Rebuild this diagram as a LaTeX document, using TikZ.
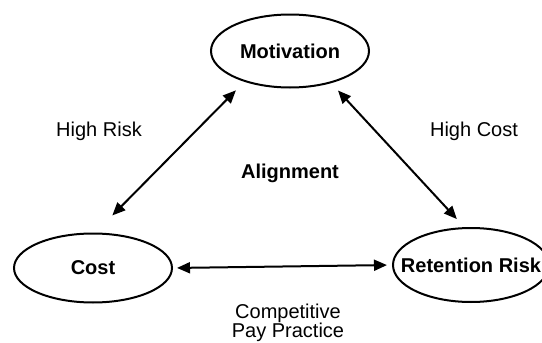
\documentclass[tikz,border=0pt]{standalone}
\usepackage{fontspec}
\setmainfont{Liberation Sans}
\usetikzlibrary{shapes.geometric,arrows.meta}
\begin{document}
\begin{tikzpicture}[x=1pt,y=-1pt,
  oval/.style={draw,line width=2pt,ellipse,inner sep=0pt,minimum width=158pt,minimum height=73pt,font=\fontsize{20}{22}\selectfont\bfseries},
  lbl/.style={font=\fontsize{20}{22}\selectfont,align=center,inner sep=0pt},
  blbl/.style={lbl,font=\fontsize{20}{22}\selectfont\bfseries},
  link/.style={line width=2pt,{Triangle[length=13pt,width=11pt]}-{Triangle[length=13pt,width=11pt]}}]
\useasboundingbox (0,0) rectangle (542,343);
\clip (0,0) rectangle (542,343);
\node[oval] (mot) at (290,51) {\makebox[0pt]{Motivation}};
\node[oval,minimum height=69pt] (cost) at (93,268) {\makebox[0pt]{Cost}};
\node[oval,minimum width=156pt,minimum height=74pt] (ret) at (471,265) {\makebox[0pt]{Retention Risk}};
\node[lbl] (hr) at (99,131) {High Risk};
\node[lbl] (hc) at (474,131) {High Cost};
\node[blbl] (al) at (290,173) {Alignment};
\node[lbl] (cp) at (288,323) {Competitive\\[-3pt]Pay Practice};
\draw[link,shorten <=12pt,shorten >=24pt] (mot.214) -- (cost.86);
\draw[link,shorten <=10pt,shorten >=11pt] (mot.322) -- (ret.100);
\draw[link,shorten <=4pt,shorten >=5pt] (cost.east) -- (ret.west);
\end{tikzpicture}
\end{document}
